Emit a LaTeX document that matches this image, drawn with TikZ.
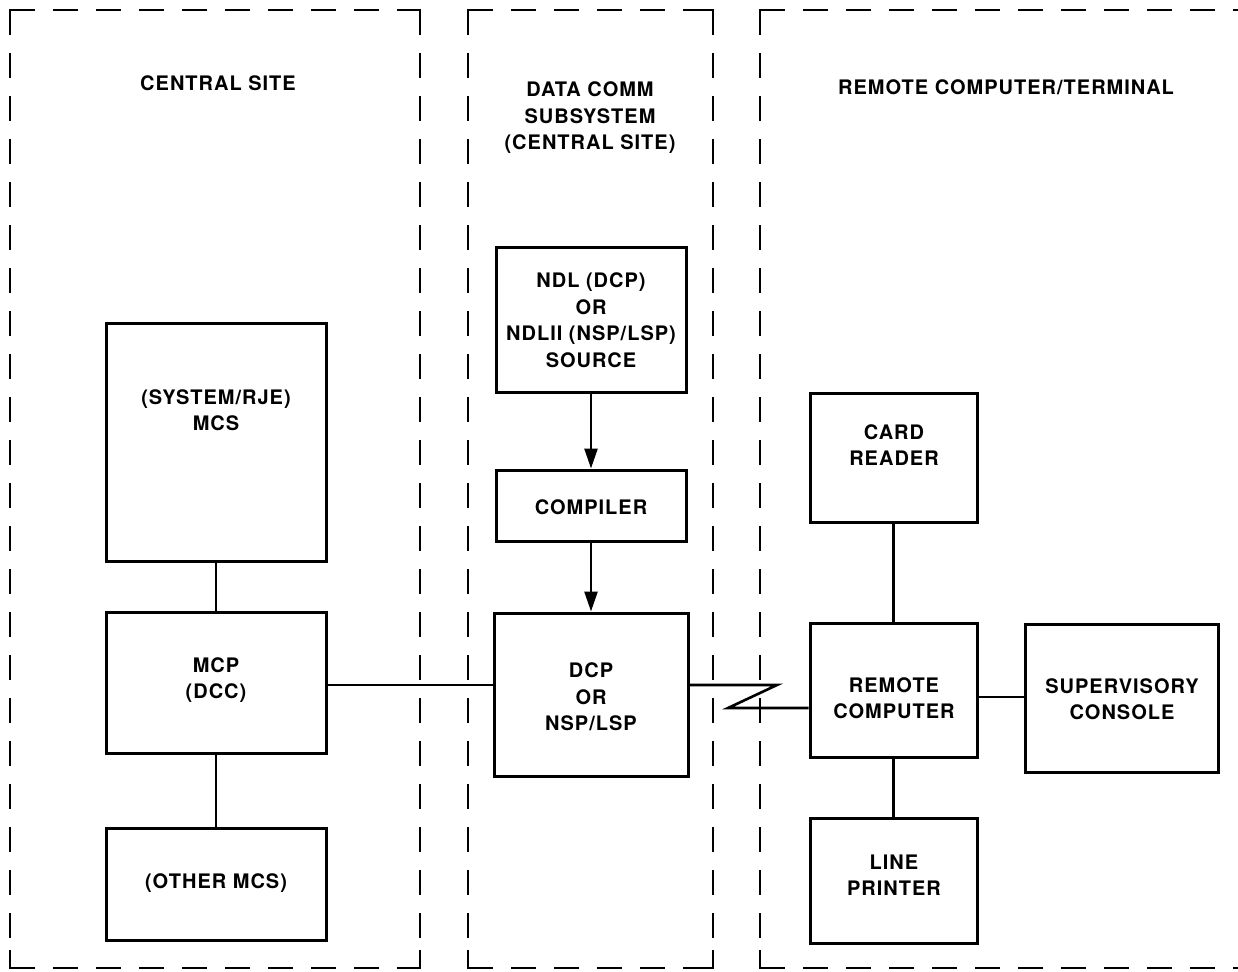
\documentclass[tikz,border=0pt]{standalone}
\usepackage{fontspec}
\setmainfont{TeX Gyre Heros}[LetterSpace=5]
\usetikzlibrary{arrows.meta,calc}

\tikzset{
  zone/.style={line width=2.8pt, dash pattern=on 25pt off 18pt},
  corner/.style={line width=2.8pt},
  blk/.style={draw, line width=3pt, rectangle, inner sep=0pt},
  lbl/.style={font=\fontsize{20}{26.5}\selectfont\bfseries, align=center, inner sep=0pt},
  wire/.style={line width=2.6pt},
  feed/.style={wire, -{Triangle[length=20pt,width=13pt]}},
}

\begin{document}
\begin{tikzpicture}[x=1pt,y=-1pt]
\useasboundingbox (0,0) rectangle (1238,971);

% ---- dashed site outlines ----
% central site
\draw[zone] (10,10) -- (420,10);
\draw[zone] (10,10) -- (10,968);
\draw[zone] (420,10) -- (420,968);
\draw[zone] (10,968) -- (420,968);
\draw[corner] (10,26) -- (10,10) -- (28,10);
\draw[corner] (402,10) -- (420,10) -- (420,26);
\draw[corner] (10,950) -- (10,968) -- (30,968);
\draw[corner] (400,968) -- (420,968) -- (420,950);
% data comm subsystem
\draw[zone] (468,10) -- (713,10);
\draw[zone] (468,10) -- (468,968);
\draw[zone] (713,10) -- (713,968);
\draw[zone] (468,968) -- (713,968);
\draw[corner] (468,26) -- (468,10) -- (486,10);
\draw[corner] (695,10) -- (713,10) -- (713,26);
\draw[corner] (468,950) -- (468,968) -- (488,968);
\draw[corner] (693,968) -- (713,968) -- (713,950);
% remote computer / terminal (runs off to the right)
\draw[zone] (760,10) -- (1260,10);
\draw[zone] (760,10) -- (760,968);
\draw[zone] (760,968) -- (1260,968);
\draw[corner] (760,26) -- (760,10) -- (778,10);
\draw[corner] (760,950) -- (760,968) -- (780,968);

% ---- site titles ----
\node[lbl] (t1) at (218,83) {CENTRAL SITE};
\node[lbl] (t2) at (590,118) {DATA COMM\\SUBSYSTEM\\(CENTRAL SITE)};
\node[lbl] (t3) at (1006,87) {REMOTE COMPUTER/TERMINAL};

% ---- central site blocks ----
\node[blk, minimum width=220pt, minimum height=238pt] (mcs) at (216,442) {};
\node[lbl] (mcs-t) at (216,410) {(SYSTEM/RJE)\\MCS};
\node[blk, minimum width=220pt, minimum height=141pt] (mcp) at (216,682.5) {};
\node[lbl] (mcp-t) at (216,680) {MCP\\(DCC)};
\node[blk, minimum width=220pt, minimum height=112pt] (other) at (216,884) {};
\node[lbl] (other-t) at (216,883) {(OTHER MCS)};

% ---- data comm blocks ----
\node[blk, minimum width=190pt, minimum height=145pt] (ndl) at (591,319.5) {};
\node[lbl] (ndl-t) at (591,320) {NDL (DCP)\\OR\\NDLII (NSP/LSP)\\SOURCE};
\node[blk, minimum width=190pt, minimum height=71pt] (comp) at (591,505.5) {};
\node[lbl] (comp-t) at (591,507) {COMPILER};
\node[blk, minimum width=194pt, minimum height=163pt] (dcp) at (591,694.5) {};
\node[lbl] (dcp-t) at (591,697) {DCP\\OR\\NSP/LSP};

% ---- remote blocks ----
\node[blk, minimum width=167pt, minimum height=129pt] (card) at (893.5,457.5) {};
\node[lbl] (card-t) at (894,445) {CARD\\READER};
\node[blk, minimum width=167pt, minimum height=134pt] (remote) at (893.5,690) {};
\node[lbl] (remote-t) at (894,698) {REMOTE\\COMPUTER};
\node[blk, minimum width=193pt, minimum height=148pt] (super) at (1121.5,698) {};
\node[lbl] (super-t) at (1122,699) {SUPERVISORY\\CONSOLE};
\node[blk, minimum width=167pt, minimum height=125pt] (lp) at (893.5,880.5) {};
\node[lbl] (lp-t) at (894,875) {LINE\\PRINTER};

% ---- connections ----
\draw[wire] (mcs.south) -- (mcp.north);
\draw[wire] (mcp.south) -- (other.north);
\draw[wire] ([yshift=-2.5pt]mcp.east) -- ([yshift=-2.5pt]mcp.east -| dcp.west);
\draw[feed] (ndl.south) -- (comp.north);
\draw[feed] (comp.south) -- (dcp.north);
\coordinate (zz1) at (777,685);
\coordinate (zz2) at (728,708);
\draw[wire] ([yshift=9.5pt]dcp.east) -- (zz1) -- (zz2) -- (zz2 -| remote.west);
\draw[wire] (card.south) -- (remote.north);
\draw[wire] (remote.south) -- (lp.north);
\draw[wire] ([yshift=-7pt]remote.east) -- ([yshift=-7pt]remote.east -| super.west);
\end{tikzpicture}
\end{document}
